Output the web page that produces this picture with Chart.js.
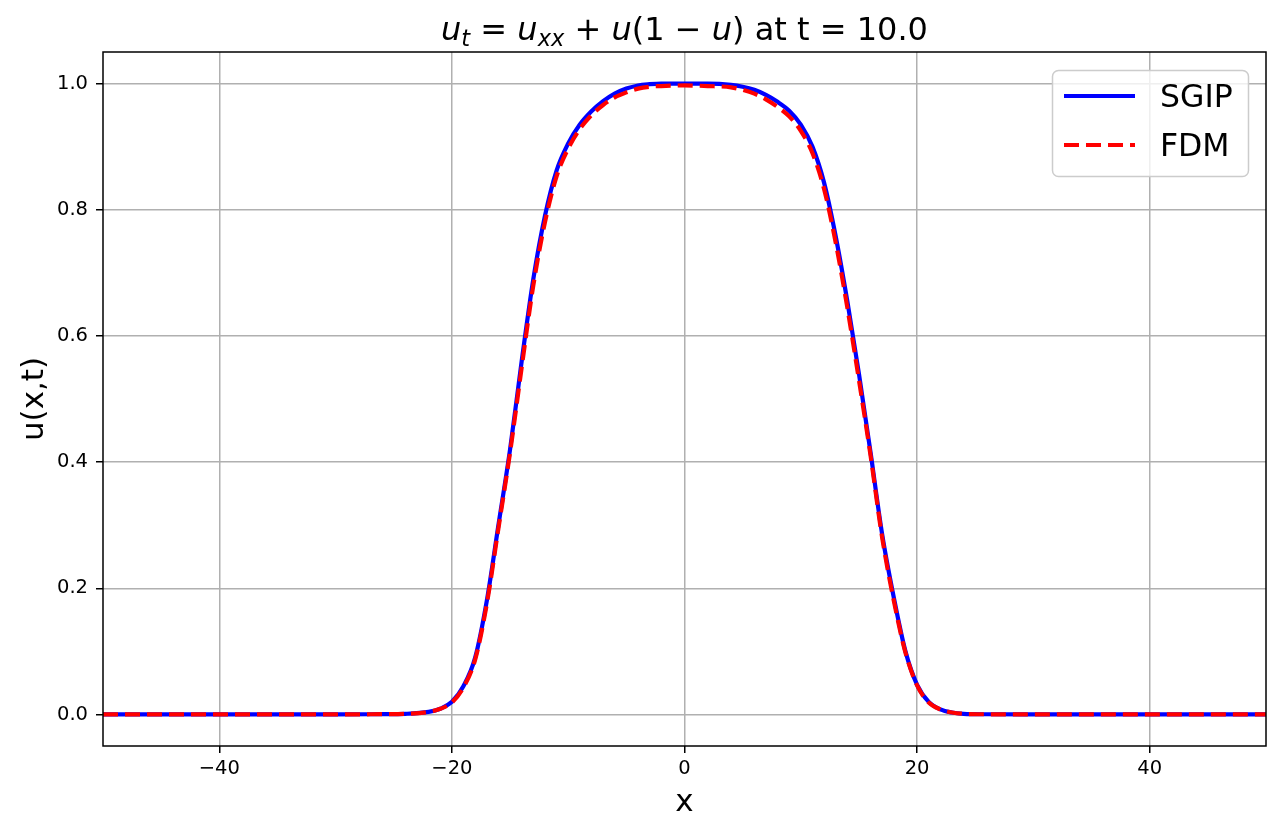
<!DOCTYPE html>
<html>
<head>
<meta charset="utf-8">
<script src="https://cdn.jsdelivr.net/npm/chart.js@4.4.1/dist/chart.umd.min.js"></script>
<style>
  html, body { margin: 0; padding: 0; background: #fff; }
  canvas { display: block; }
</style>
</head>
<body>
<canvas id="pdeChart" width="1281" height="836"></canvas>
<script>
// values
const xValues = [-50, -40, -30, -26, -24, -22, -21, -20, -19, -18, -17, -16, -15, -14, -13,
  -12, -11, -10, -9, -8, -7, -6, -5, -4, -3, -2, 0, 2, 4, 5, 6, 7, 8, 9, 10, 11, 12, 13,
  14, 15, 16, 17, 18, 19, 20, 21, 22, 23, 24, 26, 30, 40, 50];
const sgipValues = [0, 0, 0, 0.0005, 0.001, 0.004, 0.009, 0.02, 0.045, 0.09, 0.18, 0.30, 0.42, 0.56, 0.69,
  0.79, 0.862, 0.905, 0.935, 0.956, 0.972, 0.984, 0.992, 0.997, 0.999, 1.0, 1.0, 1.0, 0.998, 0.995,
  0.99, 0.982, 0.971, 0.957, 0.935, 0.90, 0.843, 0.758, 0.655, 0.54, 0.415, 0.285, 0.185, 0.10, 0.047,
  0.02, 0.008, 0.003, 0.001, 0.0003, 0, 0, 0];
const fdmValues = [0, 0, 0, 0.0005, 0.001, 0.004, 0.009, 0.019, 0.043, 0.087, 0.175, 0.295, 0.415, 0.55, 0.68,
  0.78, 0.853, 0.897, 0.928, 0.95, 0.966, 0.978, 0.986, 0.992, 0.995, 0.996, 0.997, 0.996, 0.994, 0.99,
  0.984, 0.975, 0.963, 0.948, 0.925, 0.89, 0.833, 0.748, 0.645, 0.53, 0.41, 0.28, 0.18, 0.098, 0.046,
  0.019, 0.008, 0.003, 0.001, 0.0003, 0, 0, 0];
const xTicks = [-40, -20, 0, 20, 40];
const yTicks = [0, 0.2, 0.4, 0.6, 0.8, 1.0];
const seriesNames = ["SGIP", "FDM"];

const FONT = "DejaVu Sans";

function toPoints(ys) {
  return xValues.map((x, i) => ({ x: x, y: ys[i] }));
}

// title with math parts: u_t = u_xx + u(1 - u) at t = 10.0
const titlePlugin = {
  id: "mathTitle",
  afterDraw(chart) {
    const ctx = chart.ctx;
    const big = 32, small = 22.5;
    const parts = [
      ["u", "italic", big, 0], ["t", "italic", small, 6], [" = ", "normal", big, 0],
      ["u", "italic", big, 0], ["xx", "italic", small, 6], [" + ", "normal", big, 0],
      ["u", "italic", big, 0], ["(1 \u2212 ", "normal", big, 0], ["u", "italic", big, 0],
      [")", "normal", big, 0], [" at t = 10.0", "normal", big, 0]
    ];
    ctx.save();
    let total = 0;
    parts.forEach(p => {
      ctx.font = `${p[1]} ${p[2]}px "${FONT}"`;
      p.push(ctx.measureText(p[0]).width);
      total += p[4];
    });
    const area = chart.chartArea;
    let x = (area.left + area.right) / 2 - total / 2;
    ctx.fillStyle = "#000";
    ctx.textBaseline = "alphabetic";
    ctx.textAlign = "left";
    parts.forEach(p => {
      ctx.font = `${p[1]} ${p[2]}px "${FONT}"`;
      ctx.fillText(p[0], x, 40 + p[3]);
      x += p[4];
    });
    ctx.restore();
  }
};

const framePlugin = {
  id: "frame",
  afterDatasetsDraw(chart) {
    const { ctx, chartArea: a } = chart;
    ctx.save();
    ctx.strokeStyle = "#000";
    ctx.lineWidth = 1.5;
    ctx.strokeRect(a.left, a.top, a.right - a.left, a.bottom - a.top);
    ctx.restore();
  }
};

const legendPlugin = {
  id: "boxLegend",
  afterDraw(chart) {
    const ctx = chart.ctx;
    const bx = 1052.5, by = 70.5, bw = 196, bh = 106;
    ctx.save();
    ctx.beginPath();
    ctx.roundRect(bx, by, bw, bh, 6);
    ctx.fillStyle = "rgba(255,255,255,0.8)";
    ctx.fill();
    ctx.strokeStyle = "#cccccc";
    ctx.lineWidth = 1.5;
    ctx.stroke();
    chart.data.datasets.forEach((ds, i) => {
      const y = 96 + i * 49;
      ctx.beginPath();
      ctx.setLineDash(ds.borderDash || []);
      ctx.strokeStyle = ds.borderColor;
      ctx.lineWidth = ds.borderWidth;
      ctx.moveTo(1064, y);
      ctx.lineTo(1135, y);
      ctx.stroke();
      ctx.setLineDash([]);
      ctx.fillStyle = "#000";
      ctx.font = `31.5px "${FONT}"`;
      ctx.textBaseline = "alphabetic";
      ctx.fillText(ds.label, 1160, y + 10.7);
    });
    ctx.restore();
  }
};

const ctx = document.getElementById("pdeChart").getContext("2d");

new Chart(ctx, {
  type: "line",
  data: {
    datasets: [
      {
        label: seriesNames[0],
        data: toPoints(sgipValues),
        borderColor: "#0000ff",
        borderWidth: 4.2,
        pointRadius: 0,
        cubicInterpolationMode: "monotone",
        order: 1
      },
      {
        label: seriesNames[1],
        data: toPoints(fdmValues),
        borderColor: "#ff0000",
        borderWidth: 4.2,
        borderDash: [15, 7],
        pointRadius: 0,
        cubicInterpolationMode: "monotone",
        order: 0
      }
    ]
  },
  options: {
    responsive: false,
    animation: false,
    layout: { padding: { top: 52, right: 15, left: 0, bottom: 0 } },
    plugins: {
      legend: { display: false },
      title: { display: false },
      tooltip: { enabled: false }
    },
    scales: {
      x: {
        type: "linear",
        min: -50,
        max: 50,
        afterBuildTicks: (s) => { s.ticks = xTicks.map(v => ({ value: v })); },
        afterFit: (s) => { s.height = 90; },
        grid: { color: "#b0b0b0", lineWidth: 1.5, tickColor: "#000", tickLength: 7, tickWidth: 1.5 },
        border: { display: false },
        ticks: {
          color: "#000",
          font: { family: FONT, size: 19.5 },
          padding: 4,
          maxRotation: 0,
          callback: (v) => String(v).replace("-", "\u2212")
        },
        title: {
          display: true,
          text: "x",
          color: "#000",
          font: { family: FONT, size: 31 },
          padding: { top: 0, bottom: 14 }
        }
      },
      y: {
        min: -0.05,
        max: 1.05,
        afterBuildTicks: (s) => { s.ticks = yTicks.map(v => ({ value: v })); },
        afterFit: (s) => { s.width = 103; },
        grid: { color: "#b0b0b0", lineWidth: 1.5, tickColor: "#000", tickLength: 7, tickWidth: 1.5 },
        border: { display: false },
        ticks: {
          color: "#000",
          font: { family: FONT, size: 19.5 },
          padding: 8,
          callback: (v) => v.toFixed(1)
        },
        title: {
          display: true,
          text: "u(x,t)",
          color: "#000",
          font: { family: FONT, size: 31 },
          padding: { top: 16, bottom: 0 }
        }
      }
    }
  },
  plugins: [titlePlugin, framePlugin, legendPlugin]
});
</script>
</body>
</html>
